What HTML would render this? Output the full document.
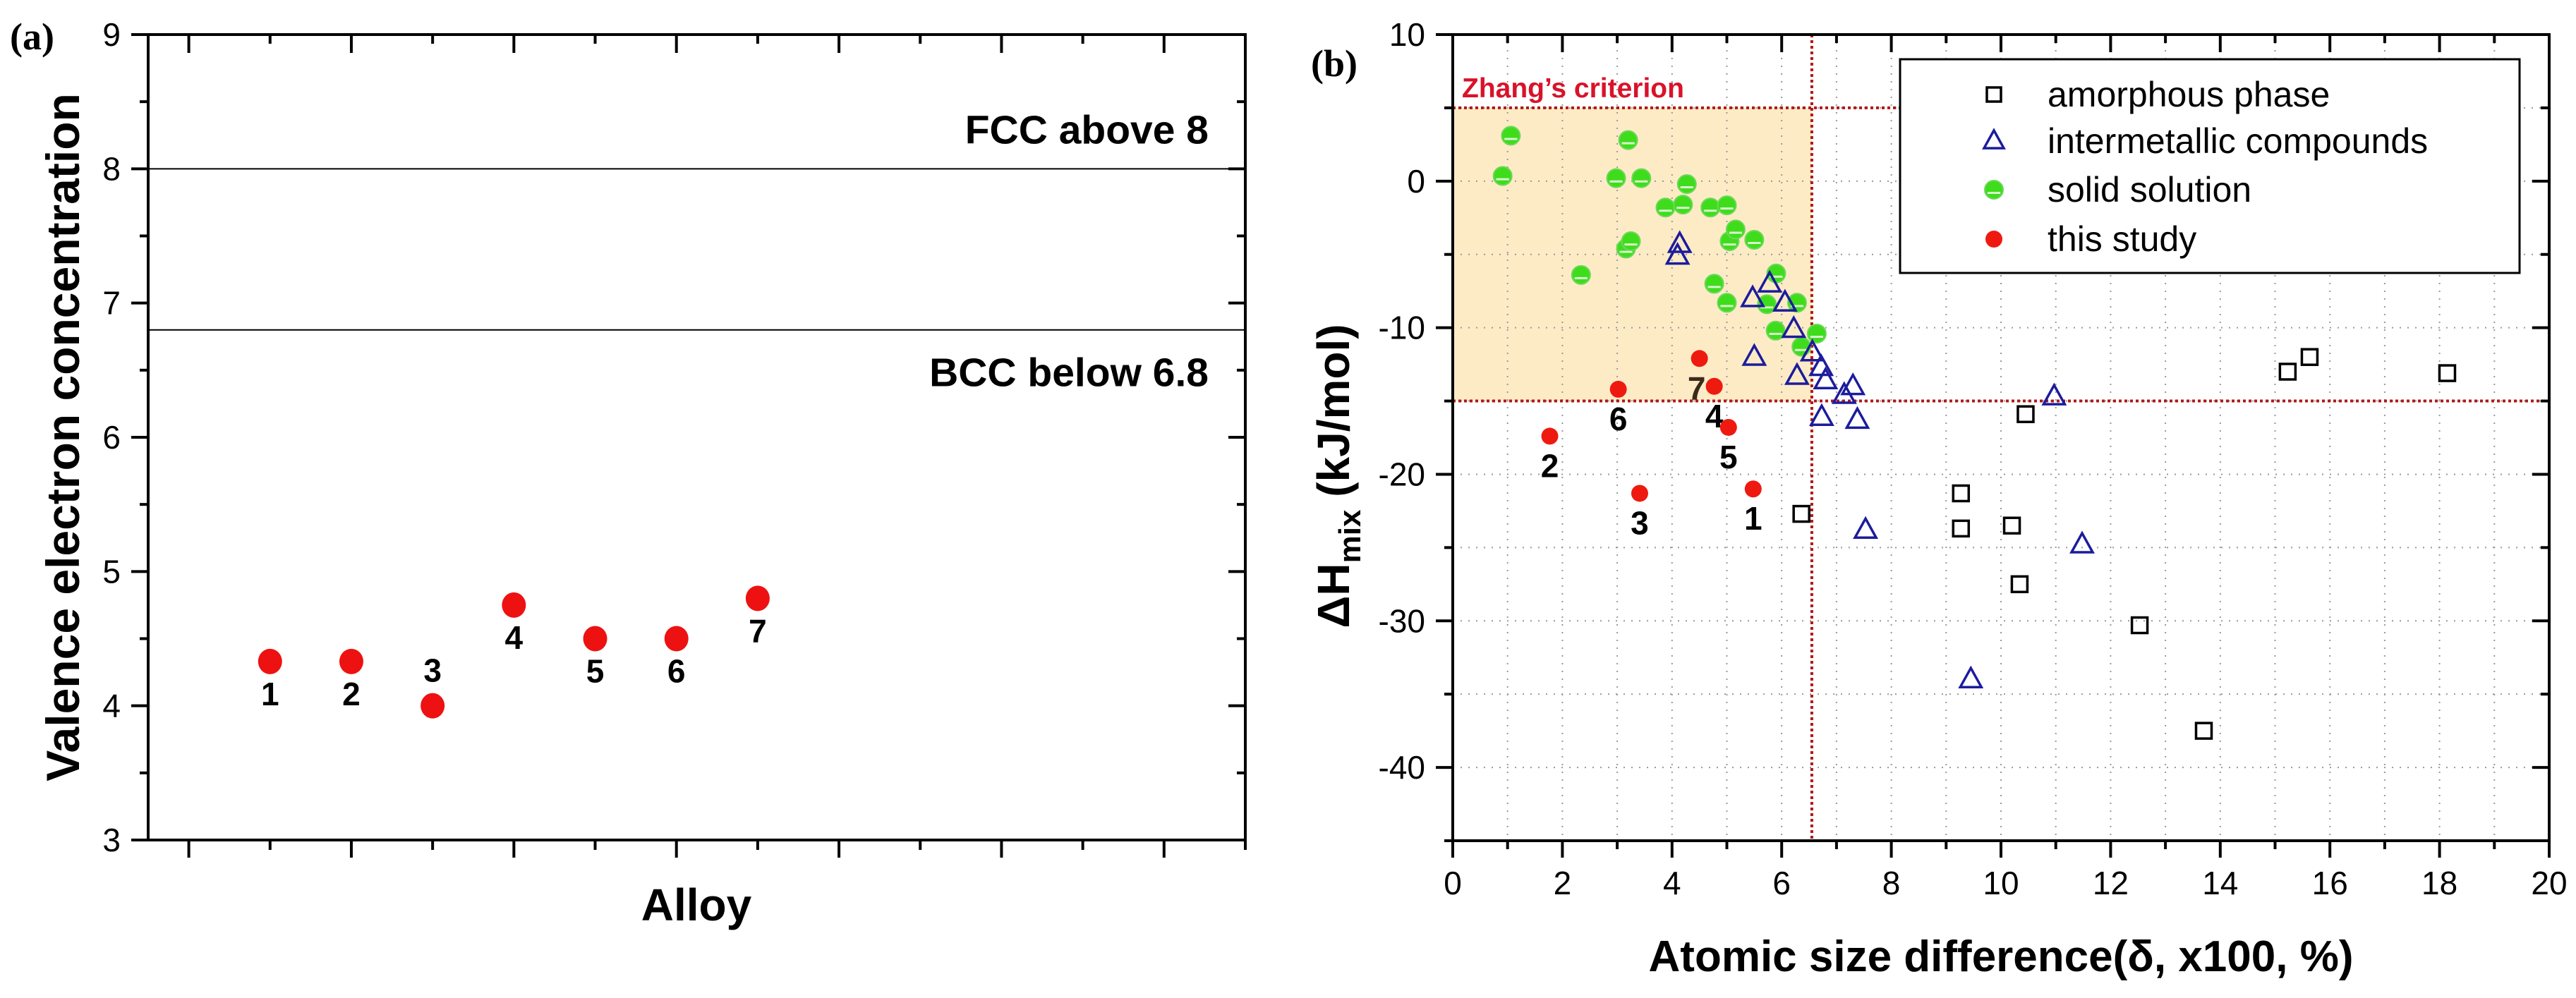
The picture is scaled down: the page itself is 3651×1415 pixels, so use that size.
<!DOCTYPE html>
<html><head><meta charset="utf-8"><style>
html,body{margin:0;padding:0;background:#fff;}
svg{display:block;font-family:"Liberation Sans",Arial,sans-serif;}
</style></head><body>
<svg id="fig" width="3651" height="1415" viewBox="0 0 3651 1415" xmlns="http://www.w3.org/2000/svg">
<rect x="0" y="0" width="3651" height="1415" fill="#fff"/>
<g id="pa"></g>
<g id="pb"></g>
</svg>
<script>
// ---------- Panel (a) data ----------
const aAlloyIdx = [1, 2, 3, 4, 5, 6, 7];
const aVEC = [4.33, 4.33, 4.0, 4.75, 4.5, 4.5, 4.8];
const aLabels = ["1", "2", "3", "4", "5", "6", "7"];
const aYTicks = [3, 4, 5, 6, 7, 8, 9];
const aThresholds = [8, 6.8];

// ---------- Panel (b) data ----------
const ssX = [0.91,1.06,2.34,2.98,3.2,3.16,3.25,3.44,3.88,4.2,4.27,4.7,5.0,4.77,5.0,5.05,5.16,5.5,5.73,5.9,5.89,6.28,6.36,6.64];
const ssY = [0.35,3.1,-6.4,0.2,2.8,-4.6,-4.1,0.2,-1.8,-1.6,-0.2,-1.8,-1.65,-7.0,-8.3,-4.1,-3.3,-4.0,-8.4,-6.3,-10.2,-8.3,-11.3,-10.4];
const imX = [4.14,4.1,5.5,5.47,5.78,6.06,6.22,6.28,6.56,6.72,6.8,6.73,7.14,7.3,7.38,7.53,10.97,11.48,9.45];
const imY = [-4.3,-5.1,-12.0,-8.0,-7.0,-8.3,-10.1,-13.3,-11.7,-12.7,-13.6,-16.1,-14.6,-14.0,-16.3,-23.8,-14.7,-24.8,-34.0];
const amX = [6.36,9.27,9.27,10.2,10.34,10.45,12.53,13.7,15.23,15.63,18.14];
const amY = [-22.7,-21.3,-23.7,-23.5,-27.5,-15.9,-30.3,-37.5,-13.0,-12.0,-13.1];
const tsX = [5.48,1.77,3.41,4.77,5.03,3.02,4.5];
const tsY = [-21.0,-17.4,-21.3,-14.0,-16.8,-14.2,-12.1];
const tsLabels = ["1","2","3","4","5","6","7"];
const bXTicks = [0,2,4,6,8,10,12,14,16,18,20];
const bYTicks = [10,0,-10,-20,-30,-40];
const zhangDelta = 6.55;
const zhangHTop = 5;
const zhangHBottom = -15;

const NS = "http://www.w3.org/2000/svg";
function mk(parent, tag, attrs, text) {
  const e = document.createElementNS(NS, tag);
  for (const k in attrs) e.setAttribute(k, attrs[k]);
  if (text !== undefined) e.textContent = text;
  parent.appendChild(e);
  return e;
}

// ===== Panel A =====
(function(){
  const g = document.getElementById('pa');
  const L=210, R=1765, T=49, B=1191;
  const xmin=-0.5, xmax=13, ymin=3, ymax=9;
  const X = v => L + (v - xmin) / (xmax - xmin) * (R - L);
  const Y = v => B - (v - ymin) / (ymax - ymin) * (B - T);

  // threshold lines
  aThresholds.forEach((t) => {
    const ln = mk(g,'line',{x1:L,x2:R,y1:Y(t),y2:Y(t),stroke:'#000','stroke-width':2});
    
    
  });
  let t1 = mk(g,'text',{x:1713,y:Y(8)-36,'font-size':57,'font-weight':'bold','text-anchor':'end'},'FCC above 8');
  
  
  let t2 = mk(g,'text',{x:1713,y:Y(6.8)+80,'font-size':57,'font-weight':'bold','text-anchor':'end'},'BCC below 6.8');
  
  

  // frame
  const fr = mk(g,'rect',{x:L,y:T,width:R-L,height:B-T,fill:'none',stroke:'#000','stroke-width':4});
  
  

  // x ticks
  for (let v=0; v<=13; v++) {
    const major = v%2===0;
    const x = X(v);
    mk(g,'line',{x1:x,x2:x,y1:B,y2:B+(major?25:14),stroke:'#000','stroke-width':4});
    mk(g,'line',{x1:x,x2:x,y1:T,y2:T+(major?26:13),stroke:'#000','stroke-width':4});
  }
  // y ticks
  for (let v=3; v<=9; v+=0.5) {
    const major = Math.abs(v-Math.round(v))<1e-6;
    const y = Y(v);
    mk(g,'line',{x1:L-(major?24:12),x2:L,y1:y,y2:y,stroke:'#000','stroke-width':4});
    mk(g,'line',{x1:R-(major?24:12),x2:R,y1:y,y2:y,stroke:'#000','stroke-width':4});
  }
  aYTicks.forEach(v=>{
    const tl = mk(g,'text',{x:171,y:Y(v)+16,'font-size':46,'text-anchor':'end'},String(v));
    
    
  });

  // points
  aAlloyIdx.forEach((a,i)=>{
    const c = mk(g,'ellipse',{cx:X(a),cy:Y(aVEC[i]),rx:17,ry:18,fill:'#ee1111'});
    
    
    const above = aLabels[i]==='3';
    const ly = above ? Y(aVEC[i]) - 34 : Y(aVEC[i]) + 62;
    const tl = mk(g,'text',{x:X(a),y:ly,'font-size':46,'font-weight':'bold','text-anchor':'middle'},aLabels[i]);
    
    
  });

  let yt = mk(g,'text',{x:0,y:0,'font-size':66,'font-weight':'bold','text-anchor':'middle',transform:'translate(112,620) rotate(-90)'},'Valence electron concentration');
  
  
  let xt = mk(g,'text',{x:987,y:1305,'font-size':64,'font-weight':'bold','text-anchor':'middle'},'Alloy');
  
  
  let pl = mk(g,'text',{x:14,y:70,'font-size':54,'font-weight':'bold','font-family':'"Liberation Serif",serif'},'(a)');
  
  
})();

// ===== Panel B =====
(function(){
  const g = document.getElementById('pb');
  const L=2059, R=3613, T=49, B=1192;
  const xmin=0, xmax=20, ymin=-45, ymax=10;
  const X = v => L + (v - xmin) / (xmax - xmin) * (R - L);
  const Y = v => B - (v - ymin) / (ymax - ymin) * (B - T);

  // Zhang region
  const zr = mk(g,'rect',{x:X(0),y:Y(zhangHTop),width:X(zhangDelta)-X(0),height:Y(zhangHBottom)-Y(zhangHTop),fill:'#fdebc6'});
  
  

  // grid
  for (let v=1; v<20; v++) {
    mk(g,'line',{x1:X(v),x2:X(v),y1:T,y2:B,stroke:'#999','stroke-width':2,'stroke-dasharray':'2 9'});
  }
  for (let v=-40; v<10; v+=5) {
    mk(g,'line',{x1:L,x2:R,y1:Y(v),y2:Y(v),stroke:'#999','stroke-width':2,'stroke-dasharray':'2 9'});
  }

  // legend box bounds
  const LG = {x:2693,y:84,w:878,h:303};

  // red dotted criterion lines
  const redc = '#b01818';
  let l1 = mk(g,'line',{x1:L,x2:LG.x,y1:Y(zhangHTop),y2:Y(zhangHTop),stroke:redc,'stroke-width':4,'stroke-dasharray':'4 4'});
  
  
  let l2 = mk(g,'line',{x1:L,x2:R,y1:Y(zhangHBottom),y2:Y(zhangHBottom),stroke:redc,'stroke-width':4,'stroke-dasharray':'4 4'});
  
  
  let l3 = mk(g,'line',{x1:X(zhangDelta),x2:X(zhangDelta),y1:T,y2:B,stroke:redc,'stroke-width':4,'stroke-dasharray':'4 4'});
  
  

  let zt = mk(g,'text',{x:2072,y:138,'font-size':39,'font-weight':'bold',fill:'#d8132a'},'Zhang\u2019s criterion');
  
  

  // markers
  function square(px,py,s,name){
    const e = mk(g,'rect',{x:px-s/2,y:py-s/2,width:s,height:s,fill:'none',stroke:'#000','stroke-width':3.5});
    
    
  }
  function tri(px,py,s,name){
    const h = s*0.9;
    const e = mk(g,'polygon',{points:`${px},${py-h*0.6} ${px-s/2},${py+h*0.4} ${px+s/2},${py+h*0.4}`,fill:'none',stroke:'#1c1c9c','stroke-width':3.5});
    
    
  }
  function green(px,py,r,name){
    const e = mk(g,'circle',{cx:px,cy:py,r:r,fill:'#3fdc1c',stroke:'#6cd85a','stroke-width':2});
    
    
    mk(g,'line',{x1:px-r*0.7,x2:px+r*0.7,y1:py+r*0.35,y2:py+r*0.35,stroke:'#d8f5cf','stroke-width':3});
  }
  function red(px,py,r,name){
    const e = mk(g,'circle',{cx:px,cy:py,r:r,fill:'#ee1a10'});
    
    
  }

  ssX.forEach((v,i)=>green(X(v),Y(ssY[i]),13,'solid-solution-point'));
  imX.forEach((v,i)=>tri(X(v),Y(imY[i]),30,'intermetallic-point'));
  amX.forEach((v,i)=>square(X(v),Y(amY[i]),22,'amorphous-point'));
  tsX.forEach((v,i)=>{
    red(X(v),Y(tsY[i]),12,'this-study-point-' + tsLabels[i]);
    const dx = tsLabels[i]==='7' ? -4 : 0;
    const tl = mk(g,'text',{x:X(v)+dx,y:Y(tsY[i])+58,'font-size':46,'font-weight':'bold','text-anchor':'middle',fill: tsLabels[i]==='7' ? '#3a2a1a' : '#000'},tsLabels[i]);
    
    
  });

  // frame
  const fr = mk(g,'rect',{x:L,y:T,width:R-L,height:B-T,fill:'none',stroke:'#000','stroke-width':4});
  
  

  // ticks
  for (let v=0; v<=20; v++) {
    const major = v%2===0;
    const x = X(v);
    mk(g,'line',{x1:x,x2:x,y1:B,y2:B+(major?24:12),stroke:'#000','stroke-width':4});
    mk(g,'line',{x1:x,x2:x,y1:T,y2:T+(major?25:12),stroke:'#000','stroke-width':4});
  }
  for (let v=-45; v<=10; v+=5) {
    const major = v%10===0;
    const y = Y(v);
    mk(g,'line',{x1:L-(major?24:12),x2:L,y1:y,y2:y,stroke:'#000','stroke-width':4});
    mk(g,'line',{x1:R-(major?24:12),x2:R,y1:y,y2:y,stroke:'#000','stroke-width':4});
  }
  bXTicks.forEach(v=>{
    const tl = mk(g,'text',{x:X(v),y:1268,'font-size':46,'text-anchor':'middle'},String(v));
    
    
  });
  bYTicks.forEach(v=>{
    const tl = mk(g,'text',{x:2020,y:Y(v)+16,'font-size':46,'text-anchor':'end'},String(v));
    
    
  });

  // legend
  const lg = mk(g,'rect',{x:LG.x,y:LG.y,width:LG.w,height:LG.h,fill:'#fff',stroke:'#000','stroke-width':3});
  
  
  const legTxt = ['amorphous phase','intermetallic compounds','solid solution','this study'];
  const legY = [134,200,269,339];
  const mx = 2826;
  square(mx,legY[0],20,'legend-marker-amorphous');
  tri(mx,legY[1],28,'legend-marker-intermetallic');
  green(mx,legY[2],13,'legend-marker-solid-solution');
  red(mx,legY[3],12,'legend-marker-this-study');
  legTxt.forEach((t,i)=>{
    const tl = mk(g,'text',{x:2902,y:legY[i]+17,'font-size':50},t);
    
    
  });

  // titles
  const yt = mk(g,'text',{x:0,y:0,'font-size':64,'font-weight':'bold','text-anchor':'middle',transform:'translate(1912,675) rotate(-90)'});
  
  
  mk(yt,'tspan',{},'\u0394H');
  mk(yt,'tspan',{'font-size':44,dy:16},'mix');
  mk(yt,'tspan',{dy:-16},' (kJ/mol)');
  const xt = mk(g,'text',{x:2836,y:1377,'font-size':62,'font-weight':'bold','text-anchor':'middle'},'Atomic size difference(\u03b4, x100, %)');
  
  
  const pl = mk(g,'text',{x:1858,y:108,'font-size':54,'font-weight':'bold','font-family':'"Liberation Serif",serif'},'(b)');
  
  
})();
</script>
</body></html>
